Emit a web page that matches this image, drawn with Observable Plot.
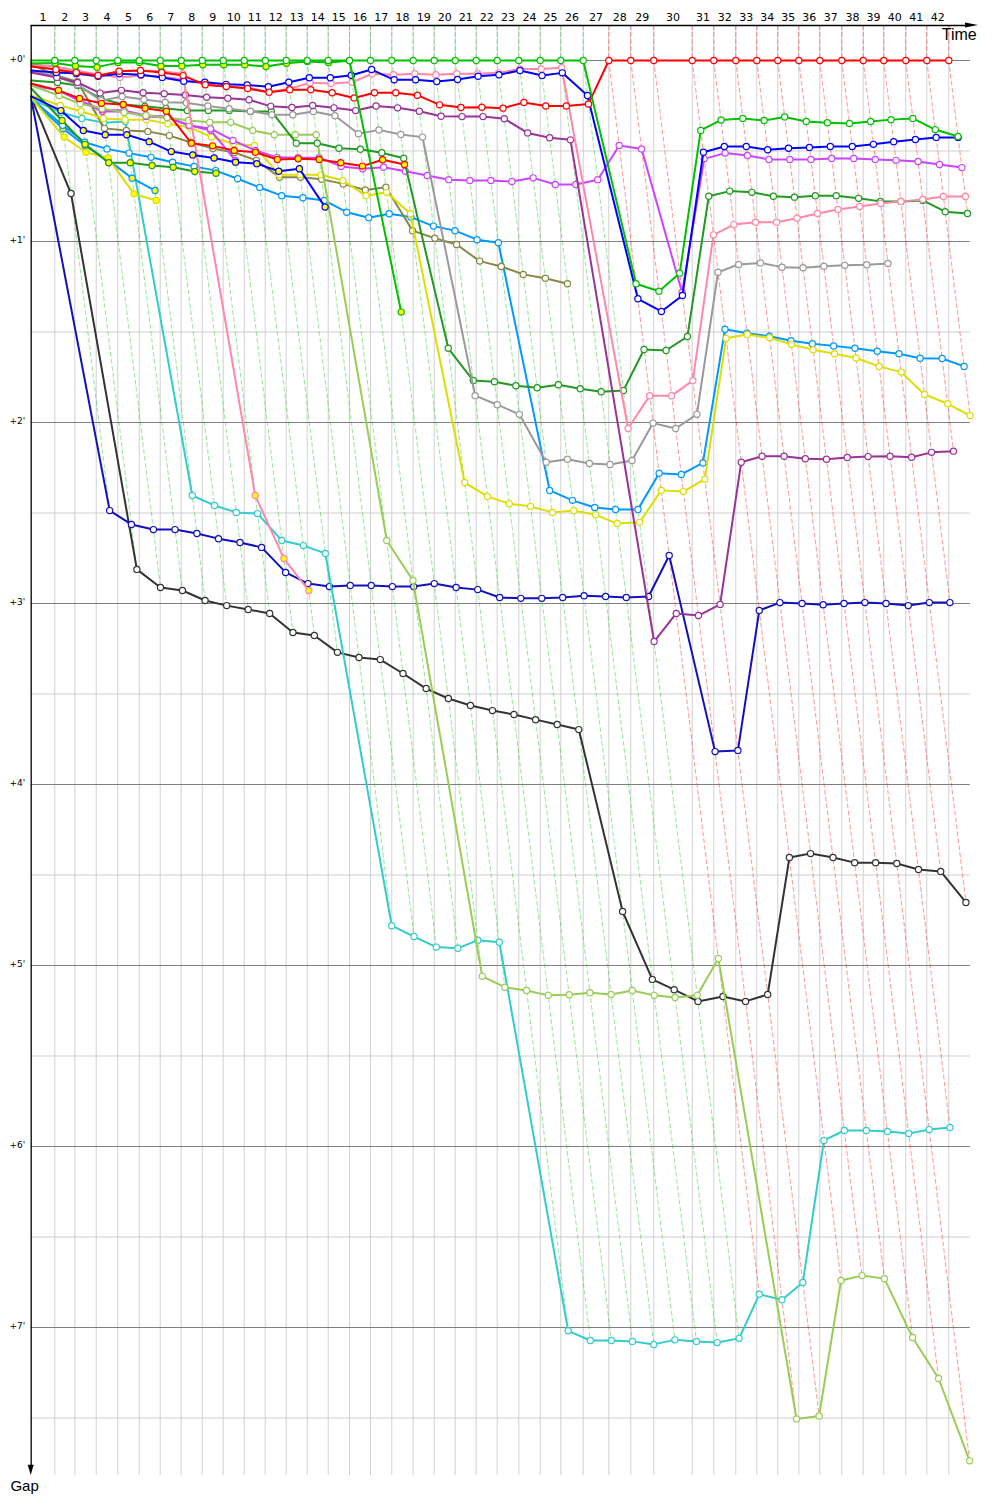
<!DOCTYPE html>
<html><head><meta charset="utf-8">
<script src="https://cdn.jsdelivr.net/npm/d3@7"></script>
<script src="https://cdn.jsdelivr.net/npm/@observablehq/plot@0.6"></script>
<style>body{margin:0;background:#fff;overflow:hidden}</style>
</head><body><div id="chart"></div>
<script>
// Leader's elapsed race time (s) at the end of each lap 0..42
const leaderTime = [0, 64.1, 118.5, 176.6, 235.3, 293.5, 350.5, 407.6, 464.7, 521.7, 578.8, 635.9, 692.9, 750.0, 807.1, 865.0, 922.0, 979.9, 1038.0, 1095.1, 1152.2, 1209.2, 1266.3, 1325.0, 1383.2, 1439.1, 1500.0, 1569.6, 1629.3, 1691.8, 1796.2, 1854.9, 1914.7, 1971.7, 2028.8, 2085.9, 2142.9, 2202.7, 2260.9, 2316.8, 2376.6, 2433.7, 2493.5];
const lapLabels = d3.range(1, 43);
const gapTicks = [0, 60, 120, 180, 240, 300, 360, 420];
const gapTickLabels = ["+0'", "+1'", "+2'", "+3'", "+4'", "+5'", "+6'", "+7'"];

// Gap to leader (s) per lap, index = lap number (0 = start)
const gapGreen = [0,0,0,0,0,0,0,0,0,0,0,0,0,0,0,0,0,0,0,0,0,0,0,0,0,0,0,74.0,76.5,70.5,23.2,19.7,19.2,19.9,18.7,20.2,20.6,20.9,20.2,19.6,19.2,22.9,25.2];
const gapGreenB = [1.0,0.8,1.8,2.2,0.7,0.7,1.8,1.8,1.4,1.4,1.4,2.0,0.9,0.3,0.7,0.1,83.4];
const gapRed = [2.0,3.0,4.0,5.0,3.6,3.3,4.0,5.0,8.0,8.6,9.3,10.5,9.7,9.7,10.7,12.4,10.7,10.7,11.5,14.7,15.6,15.5,15.8,13.9,15.1,15.1,14.4,0,0,0,0,0,0,0,0,0,0,0,0,0,0,0,0];
const gapRedB = [7.6,9.9,12.6,14.2,14.6,15.8,16.8,27.4,28.3,29.8,30.4,32.8,32.6,32.8,33.9,35.0,32.9,34.5];
const gapBlue = [3.3,4.0,4.3,5.2,4.4,4.7,5.6,6.9,7.2,7.9,8.1,8.7,7.2,5.7,5.7,4.9,3.0,6.4,6.4,7.0,6.3,5.2,4.7,3.3,5.0,4.1,11.6,79.0,83.2,77.9,30.4,28.5,28.5,29.6,29.1,28.8,28.5,28.5,27.8,26.9,26.2,25.5,25.5];
const gapBlueB = [11.9,16.6,23.2,24.6,24.6,26.9,30.2,31.3,32.3,33.7,34.2,36.7,35.9,48.6];
const gapPink = [1.3,2.0,3.3,4.6,5.6,5.0,5.3,6.3,8.0,8.6,9.0,10.4,9.4,7.4,7.6,7.2,4.4,4.7,4.4,4.7,4.4,4.4,4.1,2.8,2.8,2.4,122.0,111.1,111.1,106.1,57.8,54.4,53.6,53.6,52.3,50.7,49.4,48.4,47.4,46.7,46.1,45.1,45.1];
const gapPinkB = [0.7,3.3,4.4,5.2,3.5,3.3,3.6,4.4,144.2,165.1,175.7];
const gapPurple = [4.0,5.6,7.3,10.8,9.9,10.7,11.0,11.4,12.2,12.5,13.0,15.2,15.6,14.9,15.7,16.6,15.1,15.7,16.8,18.5,18.6,18.6,19.3,24.0,25.6,26.3,192.6,183.3,184.0,180.3,133.2,131.2,131.2,132.0,132.2,131.6,131.3,131.2,131.5,129.9,129.5];
const gapGray = [3.3,5.3,8.0,13.3,11.9,12.9,13.8,14.0,15.1,16.0,16.8,18.0,18.0,16.9,18.3,24.3,23.0,24.5,25.4,111.1,114.1,117.3,133.2,132.2,133.6,133.9,132.6,120.2,122.0,117.3,70.2,67.6,67.1,68.5,68.7,68.2,67.9,67.7,67.3];
const gapDarkGreen = [6.6,7.3,8.3,12.6,14.6,15.2,15.9,16.6,16.6,16.6,16.9,16.9,27.4,27.4,29.1,29.4,30.6,32.4,95.4,106.1,106.5,107.8,108.5,107.5,108.8,109.8,109.4,95.8,96.1,91.5,45.0,43.3,43.7,45.0,45.3,44.8,44.8,45.7,46.7,46.7,46.4,50.1,50.7];
const gapDarkGreenB = [9.3,19.9,27.8,33.9,33.9,34.8,35.4,36.8,37.4];
const gapLime = [8.3,11.6,14.3,15.9,17.2,18.2,18.9,19.9,20.5,20.5,23.2,24.6,24.6,24.6,159.1,172.4,303.6,307.2,308.3,309.9,309.7,309.0,309.6,308.3,309.9,310.6,309.9,297.7,450.3,449.3,404.4,402.8,403.8,423.3,436.9,464.2];
const gapViolet = [8.3,9.9,13.3,16.3,16.6,18.2,18.6,21.5,22.6,26.5,29.8,32.1,32.2,32.2,35.1,35.9,35.4,36.7,38.1,39.5,39.8,39.8,40.1,38.9,41.1,41.1,39.5,28.2,29.3,76.9,32.6,30.7,31.5,32.8,32.8,32.8,32.5,32.5,32.8,33.1,33.5,34.5,35.5];
const gapVioletB = [8.0,9.9,13.3,16.9,16.9,18.6,18.9,21.5,23.2,33.1];
const gapYellow = [11.6,14.9,16.8,19.2,19.6,19.6,21.0,22.1,25.4,27.6,28.2,37.9,37.9,37.9,39.8,44.8,43.7,50.8,139.9,144.5,146.9,147.8,149.8,149.2,150.6,153.5,153.1,142.5,142.9,138.8,92.1,90.8,91.9,94.1,95.9,97.2,98.6,101.4,103.3,110.7,113.8,117.7];
const gapYellowB = [12.3,25.4,30.4,32.3,44.2,46.4];
const gapOlive = [1.3,5.0,7.0,22.5,23.2,23.5,24.9,27.2,29.2,30.5,33.1,38.7,38.7,39.4,40.9,42.9,42.0,56.4,58.9,61.0,66.5,68.3,70.9,72.2,74.0];
const gapSky = [12.6,21.5,27.1,29.3,30.7,32.1,33.7,35.1,36.5,39.2,42.1,44.8,45.5,46.4,50.3,52.1,50.8,51.9,54.9,56.4,59.4,60.4,142.5,145.8,148.2,148.8,148.8,136.8,137.2,133.4,89.1,90.4,91.4,92.9,93.9,94.6,95.4,96.4,97.2,98.7,98.8,101.4];
const gapSkyB = [12.9,22.6,28.2,33.1,39.0,43.1];
const gapCyan = [12.9,17.2,19.2,20.6,20.2,144.2,147.5,149.8,150.2,159.1,160.8,163.4,286.8,290.4,293.9,294.3,291.6,292.3,421.1,424.3,424.3,424.6,425.6,424.1,424.6,425.0,423.6,409.0,410.8,405.1,358.0,354.7,354.7,355.0,355.7,354.4,353.7];
const gapNavy = [12.6,149.2,153.8,155.5,155.5,156.8,158.5,159.8,161.4,169.7,173.4,174.4,174.0,174.0,174.4,174.4,173.4,174.7,175.4,178.0,178.3,178.3,178.0,177.4,177.7,178.0,177.7,164.1,229.1,228.7,182.3,179.7,180.0,180.4,180.0,179.7,180.0,180.7,179.7,179.7];
const gapBlack = [12.3,44.1,168.7,174.7,175.7,179.0,180.7,182.0,183.3,189.6,190.6,196.2,197.9,198.6,203.2,208.2,211.5,213.8,215.5,216.8,218.5,220.1,221.8,282.1,304.6,308.0,311.9,310.3,311.9,309.6,264.2,262.9,264.2,265.9,265.9,266.2,268.2,268.8,279.1];

// Styles (line colour, marker fill)
const drivers = [
  {id: "green", gaps: gapGreen, color: "#00c000", fill: "#ffffff"},
  {id: "greenB", gaps: gapGreenB, color: "#00c000", fill: "#ffff00"},
  {id: "red", gaps: gapRed, color: "#ff0000", fill: "#ffffff"},
  {id: "redB", gaps: gapRedB, color: "#ff0000", fill: "#ffff00"},
  {id: "blue", gaps: gapBlue, color: "#0000ff", fill: "#ffffff"},
  {id: "blueB", gaps: gapBlueB, color: "#0000ff", fill: "#ffff00"},
  {id: "pink", gaps: gapPink, color: "#ff88aa", fill: "#ffffff"},
  {id: "pinkB", gaps: gapPinkB, color: "#ff88aa", fill: "#ffff00"},
  {id: "purple", gaps: gapPurple, color: "#993399", fill: "#ffffff"},
  {id: "gray", gaps: gapGray, color: "#999999", fill: "#ffffff"},
  {id: "darkgreen", gaps: gapDarkGreen, color: "#229922", fill: "#ffffff"},
  {id: "darkgreenB", gaps: gapDarkGreenB, color: "#229922", fill: "#ffff00"},
  {id: "lime", gaps: gapLime, color: "#99cc55", fill: "#ffffff"},
  {id: "violet", gaps: gapViolet, color: "#cc44ff", fill: "#ffffff"},
  {id: "violetB", gaps: gapVioletB, color: "#cc44ff", fill: "#ffff00"},
  {id: "yellow", gaps: gapYellow, color: "#dddd00", fill: "#ffffff"},
  {id: "yellowB", gaps: gapYellowB, color: "#dddd00", fill: "#ffff00"},
  {id: "olive", gaps: gapOlive, color: "#888844", fill: "#ffffff"},
  {id: "sky", gaps: gapSky, color: "#0099ff", fill: "#ffffff"},
  {id: "skyB", gaps: gapSkyB, color: "#0099ff", fill: "#ffff00"},
  {id: "cyan", gaps: gapCyan, color: "#33cccc", fill: "#ffffff"},
  {id: "navy", gaps: gapNavy, color: "#1111bb", fill: "#ffffff"},
  {id: "black", gaps: gapBlack, color: "#333333", fill: "#ffffff"}
];

const yTop = -11.602, yBottom = 469.06, xEnd = 2574.2, gridEnd = 2552;

const rows = drivers.flatMap(d => d.gaps.map((g, lap) => ({
  id: d.id, lap, gap: g, t: lap === 0 ? 0 : leaderTime[lap] + g, color: d.color, fill: d.fill
})));

// lap lines: through every driver's point of the same lap, coloured by the leader
const lapLines = d3.range(1, 43).flatMap(L => {
  const pts = rows.filter(r => r.lap === L).sort((a, b) => a.gap - b.gap);
  const col = pts[0].color;
  return [{lap: L, t: leaderTime[L], gap: yTop, color: col}, ...pts.map(p => ({lap: L, t: p.t, gap: p.gap, color: col}))];
});

const minorTicks = d3.range(30, 451, 60);
const labelRows = lapLabels.map(L => ({L, t: (leaderTime[L - 1] + leaderTime[L]) / 2}));

const driverMarks = drivers.slice().reverse().flatMap(d => {
  const rs = rows.filter(r => r.id === d.id);
  return [
    Plot.line(rs, {x: "t", y: "gap", stroke: d.color, strokeWidth: 2}),
    Plot.dot(rs.filter(r => r.lap > 0), {x: "t", y: "gap", r: 3.1, stroke: d.color, fill: d.fill, strokeWidth: 1.2})
  ];
});

const chart = Plot.plot({
  width: 1000, height: 1500, margin: 0,
  x: {domain: [0, xEnd], range: [30.7, 978], axis: null},
  y: {domain: [yTop, yBottom], range: [25, 1475], axis: null},
  color: {type: "identity"},
  style: {fontFamily: "DejaVu Sans", background: "#fff"},
  marks: [
    Plot.ruleX(leaderTime.slice(1), {y1: yTop, y2: yBottom, stroke: "#d0d0d0", strokeWidth: 1}),
    Plot.ruleY(minorTicks, {x1: 0, x2: gridEnd, stroke: "#cfcfcf", strokeWidth: 1}),
    Plot.ruleY(gapTicks, {x1: 0, x2: gridEnd, stroke: "#808080", strokeWidth: 1}),
    Plot.line(lapLines, {x: "t", y: "gap", z: "lap", stroke: "color", strokeOpacity: 0.38, strokeWidth: 1.1, strokeDasharray: "4,3"}),
    ...driverMarks,
    // axes
    Plot.ruleY([yTop], {x1: 0, x2: 2545, stroke: "#000", strokeWidth: 1.3}),
    Plot.ruleX([0], {y1: yTop, y2: 466, stroke: "#000", strokeWidth: 1.3}),
    Plot.areaY([{t: 2538.9, a: yTop - 0.85, b: yTop + 0.85}, {t: xEnd, a: yTop, b: yTop}], {x: "t", y1: "a", y2: "b", fill: "#000"}),
    Plot.areaX([{g: 465.7, a: -8.2, b: 8.2}, {g: yBottom, a: 0, b: 0}], {y: "g", x1: "a", x2: "b", fill: "#000"}),
    Plot.text(labelRows, {x: "t", y: -14.25, text: d => String(d.L), fontSize: 11, fill: "#000"}),
    Plot.text(gapTicks, {x: -16.5, y: d => d, text: (d, i) => gapTickLabels[i], fontSize: 9, textAnchor: "end", dy: -1, fill: "#000"}),
    Plot.text(["Time"], {x: 2522, y: -8.6, text: d => d, fontSize: 16, fontFamily: "Liberation Sans", fill: "#000"}),
    Plot.text(["Gap"], {x: -18, y: 472.6, text: d => d, fontSize: 15, fontFamily: "Liberation Sans", fill: "#000"})
  ]
});
document.getElementById("chart").append(chart);
</script>
</body></html>
